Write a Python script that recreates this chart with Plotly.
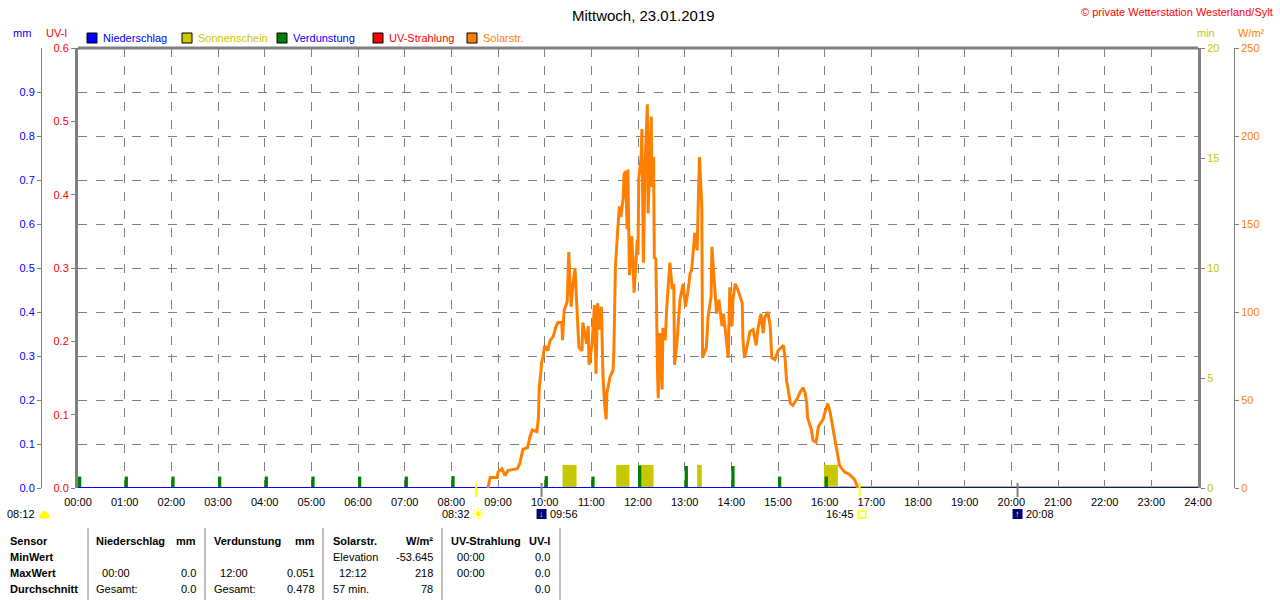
import plotly.graph_objects as go

W, H = 1280, 600
FONT = "Liberation Sans, Arial, sans-serif"
GREY = "#808080"

# --- data -------------------------------------------------------------
title = "Mittwoch, 23.01.2019"
hour_labels = ["%02d:00" % h for h in range(25)]

solar_times = [
    "08:47", "08:50", "08:59", "09:00", "09:05", "09:09", "09:13", "09:25", "09:28", "09:32",
    "09:38", "09:41", "09:44", "09:50", "09:52", "09:53", "09:55", "09:56", "09:58", "10:00",
    "10:04", "10:07", "10:11", "10:14", "10:17", "10:22", "10:23", "10:25", "10:29", "10:30",
    "10:31", "10:34", "10:36", "10:39", "10:41", "10:44", "10:48", "10:49", "10:54", "10:56",
    "10:57", "11:01", "11:04", "11:06", "11:08", "11:11", "11:13", "11:15", "11:17", "11:19",
    "11:20", "11:24", "11:28", "11:29", "11:31", "11:33", "11:34", "11:36", "11:38", "11:41",
    "11:42", "11:44", "11:46", "11:47", "11:49", "11:52", "11:55", "11:59", "12:00", "12:01",
    "12:04", "12:05", "12:07", "12:09", "12:12", "12:13", "12:15", "12:17", "12:18", "12:20",
    "12:21", "12:23", "12:25", "12:26", "12:28", "12:31", "12:32", "12:35", "12:37", "12:38",
    "12:41", "12:44", "12:46", "12:47", "12:50", "12:52", "12:54", "12:58", "13:01", "13:04",
    "13:07", "13:09", "13:11", "13:13", "13:16", "13:17", "13:19", "13:22", "13:23", "13:28",
    "13:30", "13:34", "13:35", "13:38", "13:41", "13:44", "13:48", "13:50", "13:55", "13:56",
    "13:58", "14:01", "14:02", "14:05", "14:08", "14:14", "14:15", "14:17", "14:20", "14:24",
    "14:28", "14:32", "14:34", "14:38", "14:41", "14:43", "14:47", "14:50", "14:52", "14:56",
    "15:00", "15:05", "15:07", "15:09", "15:11", "15:13", "15:16", "15:19", "15:25", "15:28",
    "15:32", "15:35", "15:37", "15:38", "15:43", "15:45", "15:49", "15:52", "15:55", "15:58",
    "16:01", "16:04", "16:07", "16:10", "16:12", "16:14", "16:16", "16:19", "16:22", "16:26",
    "16:31", "16:35", "16:38", "16:41", "16:43",
]
solar_values = [
    0, 6, 6, 9, 11, 7, 10, 11, 14, 22,
    23, 29, 33, 32, 40, 57, 65, 71, 75, 81,
    78, 84, 86, 91, 94, 94, 84, 101, 106, 128,
    134, 103, 114, 125, 105, 80, 78, 94, 82, 92,
    70, 82, 104, 65, 105, 90, 103, 63, 48, 39,
    54, 63, 67, 78, 126, 137, 147, 160, 154, 165,
    178, 180, 147, 181, 121, 143, 111, 141, 133, 176,
    188, 204, 128, 182, 218, 156, 188, 211, 171, 188,
    131, 130, 67, 51, 88, 56, 91, 84, 103, 111,
    128, 113, 116, 70, 82, 95, 107, 116, 103, 111,
    122, 124, 133, 145, 135, 151, 188, 160, 74, 80,
    97, 109, 137, 118, 99, 107, 92, 99, 77, 74,
    114, 92, 107, 116, 113, 105, 84, 74, 80, 89,
    90, 81, 90, 99, 88, 97, 100, 92, 74, 73,
    78, 80, 81, 74, 61, 56, 48, 47, 51, 54,
    57, 54, 48, 40, 33, 27, 26, 35, 37, 39,
    44, 48, 43, 35, 31, 26, 20, 13, 11, 9,
    8, 6, 5, 2, 0,
]

sun_starts = ["10:23", "11:32", "12:00", "13:16", "15:59"]
sun_ends = ["10:41", "11:49", "12:20", "13:22", "16:17"]
sun_minutes = [1.05, 1.05, 1.05, 1.05, 1.05]
sun_zero_times = ["15:59", "24:00"]
sun_zero_values = [0, 0]

evap_times = ["00:00", "01:00", "02:00", "03:00", "04:00", "05:00", "06:00", "07:00",
              "08:00", "10:00", "11:00", "12:00", "13:00", "14:00", "15:00", "16:00"]
evap_values = [0.026, 0.026, 0.026, 0.026, 0.026, 0.026, 0.026, 0.026,
               0.027, 0.027, 0.026, 0.051, 0.050, 0.050, 0.026, 0.026]

rain_times = ["00:00", "24:00"]
rain_values = [0.0, 0.0]
uv_times = ["00:00", "24:00"]
uv_values = [0.0, 0.0]

event_times = ["08:32", "09:56", "16:45", "20:08"]
event_kinds = ["sunrise", "moonset", "sunset", "moonrise"]
dawn_time = "08:12"

legend_names = ["Niederschlag", "Sonnenschein", "Verdunstung", "UV-Strahlung", "Solarstr."]

table_rows = ["Sensor", "MinWert", "MaxWert", "Durchschnitt"]
table_heads = ["Niederschlag", "Verdunstung", "Solarstr.", "UV-Strahlung"]
table_units = ["mm", "mm", "W/m²", "UV-I"]
NB = "\u00a0\u00a0"
rain_cells = [("", ""), (NB + "00:00", "0.0"), ("Gesamt:", "0.0")]
evap_cells = [("", ""), (NB + "12:00", "0.051"), ("Gesamt:", "0.478")]
solar_cells = [("Elevation", "-53.645"), (NB + "12:12", "218"), ("57 min.", "78")]
uv_cells = [(NB + "00:00", "0.0"), (NB + "00:00", "0.0"), ("", "0.0")]


# --- helpers ----------------------------------------------------------
def hrs(t):
    h, m = t.split(":")
    return int(h) + int(m) / 60


def px(x):
    return x / W


def py(y):
    return 1 - y / H


C_RAIN, C_SUN, C_EVAP, C_UV, C_SOLAR = "#0000ff", "#c8c800", "#008000", "#ff0000", "#ff8000"
legend_colors = [C_RAIN, C_SUN, C_EVAP, C_UV, C_SOLAR]
legend_text_colors = [C_RAIN, C_SUN, C_RAIN, C_UV, C_SOLAR]

fig = go.Figure()

fig.add_trace(go.Scatter(x=[hrs(t) for t in uv_times], y=uv_values, mode="lines",
                         line=dict(color=C_UV, width=2), yaxis="y", hoverinfo="skip"))
fig.add_trace(go.Scatter(x=[hrs(t) for t in sun_zero_times], y=sun_zero_values, mode="lines",
                         line=dict(color=C_SUN, width=4), yaxis="y2", hoverinfo="skip"))
fig.add_trace(go.Bar(x=[(hrs(a) + hrs(b)) / 2 for a, b in zip(sun_starts, sun_ends)],
                     width=[hrs(b) - hrs(a) for a, b in zip(sun_starts, sun_ends)],
                     y=sun_minutes, marker=dict(color=C_SUN, line_width=0), yaxis="y2"))
fig.add_trace(go.Bar(x=[hrs(t) + 0.035 for t in evap_times], y=evap_values, width=0.07,
                     marker=dict(color=C_EVAP, line_width=0), yaxis="y3"))
fig.add_trace(go.Scatter(x=[hrs(t) for t in rain_times], y=rain_values, mode="lines",
                         line=dict(color=C_RAIN, width=2), yaxis="y3", hoverinfo="skip"))
fig.add_trace(go.Scatter(x=[hrs(t) for t in solar_times], y=solar_values, mode="lines",
                         line=dict(color=C_SOLAR, width=3), yaxis="y4"))

tickfont = dict(family=FONT, size=11)
ydom = [py(488), py(48)]
fig.update_layout(
    width=W, height=H, margin=dict(l=0, r=0, t=0, b=0, autoexpand=False),
    paper_bgcolor="white", plot_bgcolor="white", showlegend=False, barmode="overlay",
    font=dict(family=FONT, size=11, color="black"),
    xaxis=dict(domain=[px(78), px(1198)], range=[0, 24], tickvals=list(range(25)),
               ticktext=hour_labels, showgrid=True, gridcolor=GREY, griddash="dash",
               gridwidth=1, zeroline=False, showline=False, ticks="", automargin=False,
               tickfont=dict(color="black", **tickfont), ticklabelstandoff=6),
    yaxis=dict(domain=ydom, range=[0, 0.6], dtick=0.1, tickformat=".1f", side="left",
               showgrid=False, zeroline=False, showline=True, linecolor=GREY, linewidth=3,
               ticks="outside", ticklen=4, tickcolor=GREY, automargin=False,
               tickfont=dict(color=C_UV, **tickfont)),
    yaxis2=dict(overlaying="y", anchor="x", side="right", range=[0, 20], dtick=5,
                showgrid=False, zeroline=False, showline=True, linecolor=GREY, linewidth=3,
                ticks="outside", ticklen=4, tickcolor=GREY, automargin=False,
                tickfont=dict(color=C_SUN, **tickfont)),
    yaxis3=dict(overlaying="y", anchor="free", position=px(41), side="left", range=[0, 1],
                tickvals=[i / 10 for i in range(10)], tickformat=".1f", automargin=False,
                showgrid=True, gridcolor=GREY, griddash="dash", gridwidth=1, zeroline=False,
                showline=True, linecolor=GREY, linewidth=1, ticks="outside", ticklen=4,
                tickcolor=GREY, tickfont=dict(color=C_RAIN, **tickfont)),
    yaxis4=dict(overlaying="y", anchor="free", position=px(1234), side="right", range=[0, 250],
                dtick=50, showgrid=False, zeroline=False, showline=True, linecolor=GREY,
                linewidth=1, ticks="outside", ticklen=4, tickcolor=GREY, automargin=False,
                tickfont=dict(color=C_SOLAR, **tickfont)),
)

shapes = [dict(type="line", xref="x domain", yref="y domain", x0=0, x1=1, y0=1, y1=1,
               line=dict(color=GREY, width=3))]
ann = []


def text(x, y, s, color="black", size=11, anchor="left", bold=False):
    ann.append(dict(x=px(x), y=py(y), xref="paper", yref="paper", text=("<b>%s</b>" % s) if bold else s,
                    showarrow=False, xanchor=anchor, yanchor="middle",
                    font=dict(family=FONT, size=size, color=color)))


text(643, 15, title, size=15, anchor="center")
text(1275, 12, "© private Wetterstation Westerland/Sylt", color=C_UV, size=11, anchor="right")
text(22, 33, "mm", color=C_RAIN, anchor="center")
text(56, 33, "UV-I", color=C_UV, anchor="center")
text(1206, 33, "min", color=C_SUN, anchor="center")
text(1251, 33, "W/m²", color=C_SOLAR, anchor="center")

# legend
leg_x = [87, 182, 277, 373, 467]
for x0, name, c, tc in zip(leg_x, legend_names, legend_colors, legend_text_colors):
    shapes.append(dict(type="rect", xref="paper", yref="paper", x0=px(x0), x1=px(x0 + 10),
                       y0=py(43), y1=py(33), fillcolor=c, line=dict(color="black", width=1)))
    text(x0 + 14, 38, name, color=tc)

# sun / moon events below the axis
text(37, 514, dawn_time, anchor="right")
shapes.append(dict(type="path", xref="paper", yref="paper",
                   path="M %f,%f C %f,%f %f,%f %f,%f Z" % (px(40), py(518), px(41), py(509),
                                                        px(48), py(509), px(49), py(518)),
                   fillcolor="#ffff00", line=dict(color="#ffff00", width=1)))
for t, kind in zip(event_times, event_kinds):
    x = hrs(t)
    sun = kind.startswith("sun")
    shapes.append(dict(type="line", xref="x", yref="paper", x0=x, x1=x, y0=py(483), y1=py(497),
                       line=dict(color="#ffff00" if sun else GREY, width=2)))
    xp = 78 + x * (1120 / 24)
    if sun:
        text(xp - 4, 514, t, anchor="right")
        if kind == "sunrise":
            text(xp + 2, 514, "☀", color="#ffff00", size=17, anchor="center")
        else:
            shapes.append(dict(type="rect", xref="paper", yref="paper", x0=px(xp - 1),
                               x1=px(xp + 6), y0=py(518), y1=py(511), fillcolor="white",
                               line=dict(color="#ffff00", width=1.5)))
    else:
        shapes.append(dict(type="rect", xref="paper", yref="paper", x0=px(xp - 5), x1=px(xp + 5),
                           y0=py(519), y1=py(509), fillcolor="#000080", line_width=0))
        text(xp, 514, "↓" if kind == "moonset" else "↑", color="#ffff00", size=9, anchor="center")
        text(xp + 6, 514, t)

# statistics table
for x in [88, 205, 323, 442, 560]:
    shapes.append(dict(type="line", xref="paper", yref="paper", x0=px(x), x1=px(x),
                       y0=py(528), y1=py(600), line=dict(color=GREY, width=1)))
row_y = [541, 557, 573, 589]
for y, r in zip(row_y, table_rows):
    text(8, y, r, bold=True)
col_l = [94, 212, 331, 449]
col_r = [198, 317, 435, 552]
for i, (head, unit, cells) in enumerate(zip(table_heads, table_units,
                                            [rain_cells, evap_cells, solar_cells, uv_cells])):
    text(col_l[i], row_y[0], head, bold=True)
    text(col_r[i], row_y[0], unit, bold=True, anchor="right")
    for y, (left, right) in zip(row_y[1:], cells):
        if left:
            text(col_l[i], y, left)
        if right:
            text(col_r[i], y, right, anchor="right")

fig.update_layout(shapes=shapes, annotations=ann)
fig.write_html("out.html", config={"displayModeBar": False},
               post_script="document.body.style.margin='0';")
